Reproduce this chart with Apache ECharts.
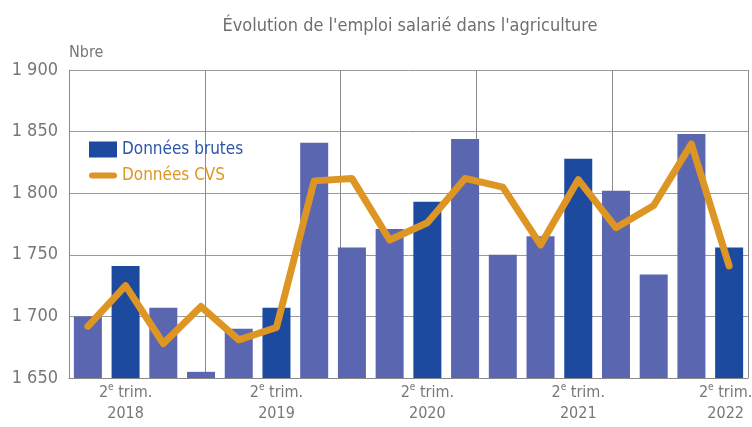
<!DOCTYPE html>
<html>
<head>
<meta charset="utf-8">
<script src="https://cdn.jsdelivr.net/npm/echarts@6/dist/echarts.min.js"></script>
<style>
  html, body { margin: 0; padding: 0; background: #fff; }
  #chart { width: 752px; height: 427px; }
</style>
</head>
<body>
<div id="chart"></div>
<script>
var quarters = ["T1 2018", "T2 2018", "T3 2018", "T4 2018",
  "T1 2019", "T2 2019", "T3 2019", "T4 2019",
  "T1 2020", "T2 2020", "T3 2020", "T4 2020",
  "T1 2021", "T2 2021", "T3 2021", "T4 2021",
  "T1 2022", "T2 2022"];
var yearLabels = ["2018", "2019", "2020", "2021", "2022"];
var brutes = [1700, 1741, 1707, 1655, 1690, 1707, 1841, 1756, 1771, 1793,
  1844, 1750, 1765, 1828, 1802, 1734, 1848, 1756];
var cvs = [1692, 1725, 1678, 1708, 1681, 1691, 1810, 1812, 1762, 1776,
  1812, 1805, 1758, 1811, 1772, 1790, 1840, 1741];

var FONT = "'DejaVu Sans Condensed', 'Liberation Sans Narrow', sans-serif";
var DARK = "#1c4a9f";
var LIGHT = "#5a66b0";
var ORANGE = "#dd9624";

var barData = brutes.map(function (v, i) {
  // 2e trimestre en bleu foncé
  return { value: v, itemStyle: { color: i % 4 === 1 ? DARK : LIGHT } };
});

var chart = echarts.init(document.getElementById("chart"), null, { renderer: "canvas" });

var option = {
  animation: false,
  title: {
    text: "Évolution de l'emploi salarié dans l'agriculture",
    left: 405,
    textAlign: "center",
    top: 12,
    textStyle: { fontFamily: FONT, fontSize: 18, fontWeight: "normal", color: "#6f6f6f" }
  },
  legend: {
    orient: "vertical",
    left: 89,
    top: 141,
    padding: 0,
    itemWidth: 28,
    itemHeight: 16,
    itemGap: 9,
    textStyle: { fontFamily: FONT, fontSize: 17 },
    data: [
      { name: "Données brutes", icon: "rect", itemStyle: { color: DARK }, textStyle: { color: "#2d55aa" } },
      {
        name: "Données CVS",
        icon: "path://M3,0 H25 A3,3 0 0 1 25,6 H3 A3,3 0 0 1 3,0 Z",
        itemStyle: { color: ORANGE },
        lineStyle: { width: 0 },
        textStyle: { color: ORANGE }
      }
    ]
  },
  grid: { left: 69, right: 4, top: 70, bottom: 49, outerBoundsMode: "none" },
  xAxis: [
    {
      type: "category",
      data: quarters,
      boundaryGap: true,
      axisLine: { lineStyle: { color: "#8a8a8a", width: 1 } },
      axisTick: { show: false },
      axisLabel: {
        interval: function (i) { return i % 4 === 1; },
        margin: 4,
        lineHeight: 21,
        color: "#777",
        fontFamily: FONT,
        fontSize: 16,
        formatter: function (v, i) {
          var y = yearLabels[(i - 1) / 4];
          if (i === quarters.length - 1) {
            return "2{sup|e} trim.{sp|}\n" + y + "{sp|}";
          }
          return "2{sup|e} trim.\n" + y;
        },
        rich: {
          sup: { fontSize: 10, verticalAlign: "top", color: "#777", fontFamily: FONT, padding: [0, 0, 6, 0] },
          sp: { width: 7 }
        }
      },
      splitLine: { show: false }
    },
    {
      type: "value",
      position: "bottom",
      min: 0,
      max: 5,
      interval: 1,
      show: true,
      axisLine: { show: false },
      axisTick: { show: false },
      axisLabel: { show: false },
      splitLine: { show: true, lineStyle: { color: "#8a8a8a", width: 1 } }
    }
  ],
  yAxis: {
    type: "value",
    min: 1650,
    max: 1900,
    interval: 50,
    name: "Nbre",
    nameLocation: "end",
    nameGap: 9,
    nameTextStyle: { align: "left", color: "#777", fontFamily: FONT, fontSize: 16 },
    axisLine: { show: true, lineStyle: { color: "#8a8a8a", width: 1 } },
    axisTick: { show: false },
    axisLabel: {
      margin: 11,
      color: "#777",
      fontFamily: FONT,
      fontSize: 18,
      formatter: function (v) { return String(v).replace(/(\d)(\d{3})$/, "$1 $2"); }
    },
    splitLine: { lineStyle: { color: "#9a9a9a", width: 1 } }
  },
  series: [
    {
      name: "Données brutes",
      type: "bar",
      xAxisIndex: 0,
      barWidth: 28,
      itemStyle: { color: DARK },
      data: barData
    },
    {
      name: "Données CVS",
      type: "line",
      xAxisIndex: 0,
      symbol: "none",
      lineStyle: { color: ORANGE, width: 7, cap: "round", join: "round" },
      itemStyle: { color: ORANGE },
      data: cvs,
      z: 5
    }
  ]
};

chart.setOption(option);
</script>
</body>
</html>
